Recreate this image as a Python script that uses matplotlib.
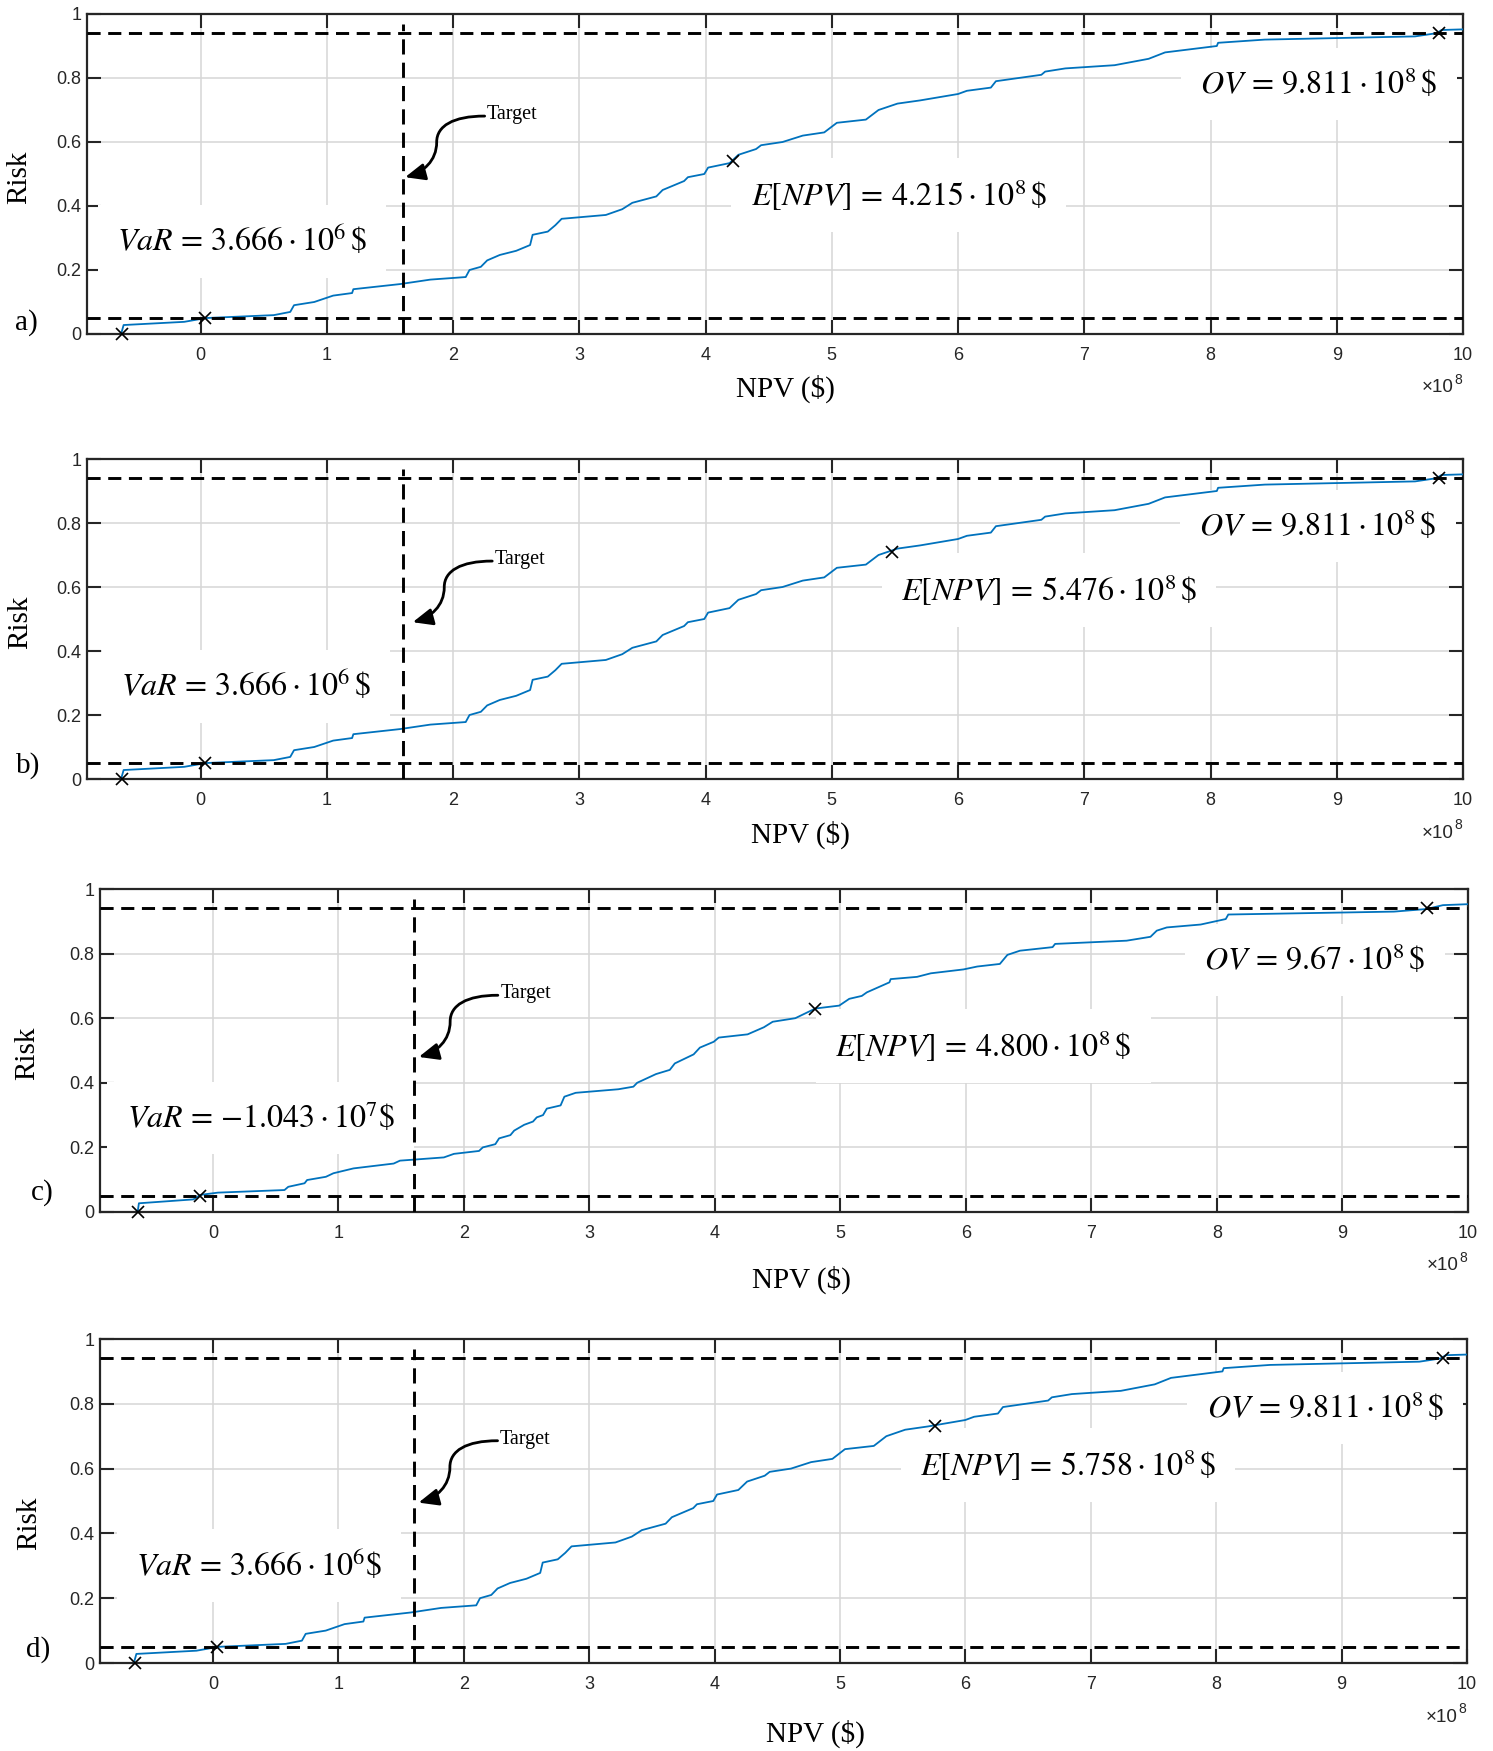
import numpy as np
import matplotlib
matplotlib.use("Agg")
import matplotlib.pyplot as plt
from matplotlib.path import Path
from matplotlib.patches import FancyArrowPatch

# ---------------- data (NPV in units of 1e8 $) ----------------
curve_x_abd = [-0.63, -0.61, -0.13, 0.00, 0.05, 0.58, 0.71, 0.74, 0.90, 1.05,
               1.20, 1.21, 1.58, 1.82, 2.10, 2.13, 2.22, 2.27, 2.37, 2.50,
               2.61, 2.63, 2.75, 2.81, 2.86, 3.21, 3.34, 3.42, 3.61, 3.66,
               3.83, 3.86, 3.99, 4.02, 4.19, 4.26, 4.40, 4.44, 4.61, 4.77,
               4.94, 5.04, 5.27, 5.37, 5.52, 5.70, 6.00, 6.07, 6.26, 6.30,
               6.66, 6.69, 6.85, 7.24, 7.51, 7.64, 8.05, 8.06, 8.43, 9.62,
               9.79, 9.83, 10.0]
curve_y_abd = [0.000, 0.028, 0.038, 0.047, 0.050, 0.059, 0.069, 0.090, 0.100, 0.120,
               0.128, 0.140, 0.156, 0.170, 0.178, 0.200, 0.210, 0.230, 0.247, 0.260,
               0.278, 0.310, 0.320, 0.340, 0.360, 0.372, 0.390, 0.410, 0.430, 0.450,
               0.478, 0.490, 0.500, 0.520, 0.534, 0.560, 0.578, 0.590, 0.600, 0.620,
               0.630, 0.660, 0.670, 0.700, 0.720, 0.730, 0.750, 0.760, 0.770, 0.790,
               0.810, 0.820, 0.830, 0.840, 0.860, 0.880, 0.900, 0.910, 0.920, 0.930,
               0.940, 0.950, 0.952]

curve_x_c = [-0.60, -0.59, -0.156, -0.10, 0.04, 0.57, 0.60, 0.73, 0.75, 0.90,
             0.96, 1.12, 1.44, 1.49, 1.84, 1.92, 2.12, 2.15, 2.25, 2.28,
             2.37, 2.40, 2.48, 2.55, 2.58, 2.63, 2.66, 2.77, 2.80, 2.89,
             3.23, 3.35, 3.38, 3.53, 3.64, 3.68, 3.83, 3.88, 3.99, 4.03,
             4.26, 4.39, 4.46, 4.64, 4.72, 4.80, 4.99, 5.07, 5.17, 5.21,
             5.39, 5.40, 5.61, 5.72, 5.98, 6.09, 6.27, 6.33, 6.43, 6.69,
             6.71, 7.28, 7.47, 7.52, 7.60, 7.87, 8.07, 8.09, 9.41, 9.67,
             9.80, 10.0]
curve_y_c = [0.000, 0.027, 0.039, 0.053, 0.060, 0.068, 0.078, 0.089, 0.099, 0.109,
             0.120, 0.135, 0.150, 0.159, 0.169, 0.180, 0.189, 0.200, 0.210, 0.228,
             0.238, 0.252, 0.270, 0.280, 0.293, 0.300, 0.320, 0.330, 0.357, 0.369,
             0.380, 0.388, 0.400, 0.427, 0.440, 0.460, 0.488, 0.509, 0.527, 0.540,
             0.550, 0.572, 0.589, 0.600, 0.615, 0.630, 0.639, 0.660, 0.669, 0.680,
             0.711, 0.721, 0.728, 0.739, 0.751, 0.760, 0.768, 0.796, 0.809, 0.820,
             0.830, 0.840, 0.852, 0.871, 0.881, 0.890, 0.907, 0.921, 0.930, 0.938,
             0.950, 0.953]

panel_labels = ["a)", "b)", "c)", "d)"]
min_npv = [-0.62, -0.62, -0.60, -0.62]
var_npv = [0.03666, 0.03666, -0.1043, 0.03666]
var_text = [r"$VaR\, =\, 3.666 \cdot 10^{6}\,\$$", r"$VaR\, =\, 3.666 \cdot 10^{6}\,\$$",
            r"$VaR\, =\, {-}1.043 \cdot 10^{7}\$$", r"$VaR\, =\, 3.666 \cdot 10^{6}\$$"]
enpv = [4.215, 5.476, 4.800, 5.758]
enpv_risk = [0.540, 0.710, 0.630, 0.730]
enpv_text = [r"$E[NPV]\, =\, 4.215 \cdot 10^{8}\,\$$", r"$E[NPV]\, =\, 5.476 \cdot 10^{8}\,\$$",
             r"$E[NPV]\, =\, 4.800 \cdot 10^{8}\,\$$", r"$E[NPV]\, =\, 5.758 \cdot 10^{8}\,\$$"]
ov = [9.811, 9.811, 9.67, 9.811]
ov_text = [r"$OV\, =\, 9.811 \cdot 10^{8}\,\$$", r"$OV\, =\, 9.811 \cdot 10^{8}\,\$$",
           r"$OV\, =\, 9.67 \cdot 10^{8}\,\$$", r"$OV\, =\, 9.811 \cdot 10^{8}\,\$$"]
var_level = 0.05
ov_level = 0.94
target_npv = 1.6

x_ticks = [0, 1, 2, 3, 4, 5, 6, 7, 8, 9, 10]
x_tick_labels = ["0", "1", "2", "3", "4", "5", "6", "7", "8", "9", "10"]
y_ticks = [0, 0.2, 0.4, 0.6, 0.8, 1.0]
y_tick_labels = ["0", "0.2", "0.4", "0.6", "0.8", "1"]

# ---------------- layout (pixels) ----------------
W, H = 1493, 1751
axes_px = [(87, 14, 1463, 334), (87, 459, 1463, 779),
           (100, 889, 1468, 1212), (100, 1339, 1467, 1663)]
var_pos = [(0.33, 0.29), (0.36, 0.29), (0.38, 0.29), (0.37, 0.30)]
enpv_pos = [(5.53, 0.434), (6.72, 0.59), (6.14, 0.514), (6.82, 0.61)]
ov_pos = [(8.86, 0.78), (8.85, 0.79), (8.78, 0.78), (8.87, 0.787)]
arrow_tip = [(1.62, 0.49), (1.68, 0.49), (1.64, 0.48), (1.64, 0.495)]
xlabel_px = [(785, 389), (800, 835), (801, 1280), (815, 1734)]
ylabel_px = [(19, 177), (20, 622), (27, 1053), (29, 1523)]
plabel_px = [(26, 330), (28, 773), (42, 1200), (38, 1657)]

plt.rcParams["mathtext.fontset"] = "stix"
SERIF = "Liberation Serif"
SANS = "Liberation Sans"
DARK = "#262626"
EQ_SIZE = 23

fig = plt.figure(figsize=(W / 100, H / 100), dpi=100)


def fx(x):
    return x / W


def fy(y):
    return 1 - y / H


for i in range(4):
    l, t, r, b = axes_px[i]
    ax = fig.add_axes([fx(l), fy(b), (r - l) / W, (b - t) / H])
    ax.set_xlim(-0.9, 10)
    ax.set_ylim(0, 1)
    ax.set_xticks(x_ticks)
    ax.set_xticklabels(x_tick_labels, family=SANS)
    ax.set_yticks(y_ticks)
    ax.set_yticklabels(y_tick_labels, family=SANS)
    ax.grid(True, color="#d6d6d6", lw=1.1)
    ax.set_axisbelow(True)
    ax.tick_params(direction="in", length=10, width=1.5, top=True, right=True,
                   labelsize=13, color=DARK, labelcolor=DARK)
    ax.tick_params(axis="x", pad=9)
    ax.tick_params(axis="y", pad=4)
    for s in ax.spines.values():
        s.set_linewidth(1.6)
        s.set_color(DARK)

    if i == 2:
        cx, cy = curve_x_c, curve_y_c
    else:
        cx, cy = curve_x_abd, curve_y_abd
    ax.plot(cx, cy, color="#0072BD", lw=1.3, zorder=4)

    ax.axhline(var_level, color="k", lw=2.1, ls=(0, (4.5, 2.6)), zorder=5)
    ax.axhline(ov_level, color="k", lw=2.1, ls=(0, (4.5, 2.6)), zorder=5)
    ax.plot([target_npv, target_npv], [0, 0.97], color="k", lw=2.1,
            ls=(0, (5.2, 2.8)), zorder=5)

    ax.plot([min_npv[i], var_npv[i], enpv[i], ov[i]],
            [0.0, var_level, enpv_risk[i], ov_level],
            ls="none", marker="x", color="k", ms=9, mew=1.2, zorder=6, clip_on=False)

    box = dict(boxstyle="square,pad=0.6", fc="white", ec="none")
    ax.text(*var_pos[i], var_text[i], fontsize=EQ_SIZE, ha="center", va="center",
            bbox=box, zorder=3)
    ax.text(*enpv_pos[i], enpv_text[i], fontsize=EQ_SIZE, ha="center", va="center",
            bbox=box, zorder=3)
    ax.text(*ov_pos[i], ov_text[i], fontsize=EQ_SIZE, ha="center", va="center",
            bbox=box, zorder=3)

    # Target annotation with S-shaped arrow
    tx, ty = arrow_tip[i]
    verts = [(tx + 0.63, ty + 0.191),
             (tx + 0.38, ty + 0.191), (tx + 0.25, ty + 0.16), (tx + 0.25, ty + 0.11),
             (tx + 0.25, ty + 0.05), (tx + 0.14, ty + 0.015), (tx, ty)]
    codes = [Path.MOVETO, Path.CURVE4, Path.CURVE4, Path.CURVE4,
             Path.CURVE4, Path.CURVE4, Path.CURVE4]
    arr = FancyArrowPatch(path=Path(verts, codes),
                          arrowstyle="-|>,head_length=0.75,head_width=0.32",
                          mutation_scale=16, color="k", lw=2.0, zorder=7)
    ax.add_patch(arr)
    ax.text(tx + 0.65, ty + 0.195, "Target", family=SERIF, fontsize=14.5,
            ha="left", va="center", zorder=7)

    # exponent label
    ax.annotate("\u00d710", xy=(1, 0), xycoords="axes fraction",
                xytext=(-9, -54), textcoords="offset pixels", ha="right", va="center",
                family=SANS, fontsize=13.5, color=DARK)
    ax.annotate("8", xy=(1, 0), xycoords="axes fraction",
                xytext=(-1, -46), textcoords="offset pixels", ha="right", va="center",
                family=SANS, fontsize=10, color=DARK)

    fig.text(fx(xlabel_px[i][0]), fy(xlabel_px[i][1]), r"NPV (\$)", family=SERIF,
             fontsize=21, ha="center", va="center", color="k")
    fig.text(fx(ylabel_px[i][0]), fy(ylabel_px[i][1]), "Risk", family=SERIF,
             fontsize=21, ha="center", va="center", rotation=90, color="k")
    fig.text(fx(plabel_px[i][0]), fy(plabel_px[i][1]), panel_labels[i], family=SERIF,
             fontsize=21, ha="center", va="baseline", color="k")

fig.savefig("out.png", dpi=100, facecolor="white")
